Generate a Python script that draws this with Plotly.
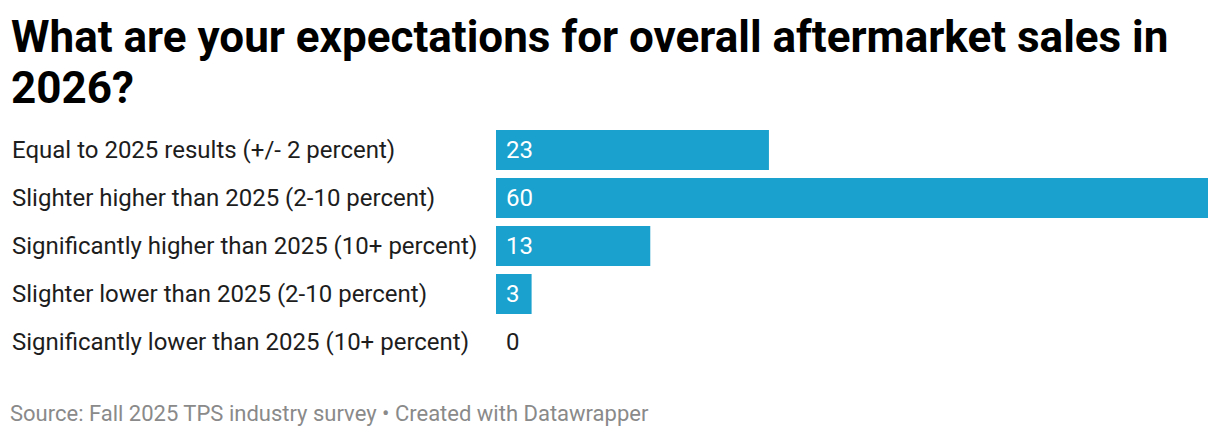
import plotly.graph_objects as go

categories = [
    "Equal to 2025 results (+/- 2 percent)",
    "Slighter higher than 2025 (2-10 percent)",
    "Significantly higher than 2025 (10+ percent)",
    "Slighter lower than 2025 (2-10 percent)",
    "Significantly lower than 2025 (10+ percent)",
]
values = [23, 60, 13, 3, 0]

title_lines = ["What are your expectations for overall aftermarket sales in", "2026?"]
footer_text = "Source: Fall 2025 TPS industry survey • Created with Datawrapper"

BAR = "#1aa1ce"
FONT = "Roboto"
W, H = 1220, 438
L, R, T, B = 496, 12, 126, 72
PW, PH = W - L - R, H - T - B


def px_x(x):
    return (x - L) / PW


def px_y(y):
    return (H - B - y) / PH


fig = go.Figure()
fig.add_trace(go.Bar(
    x=values, y=categories, orientation="h",
    marker=dict(color=BAR, line=dict(width=0)),
    hoverinfo="skip", showlegend=False,
))

annotations = []
for c, v in zip(categories, values):
    annotations.append(dict(
        x=0, y=c, xref="x", yref="y", text=str(v), showarrow=False,
        xanchor="left", yanchor="middle", xshift=8,
        font=dict(family=FONT, size=24, color="#ffffff" if v > 0 else "#1d1d1d"),
    ))
    annotations.append(dict(
        x=px_x(10), y=c, xref="paper", yref="y", text=c, showarrow=False,
        xanchor="left", yanchor="middle",
        font=dict(family=FONT, size=24, color="#1d1d1d"),
    ))

for i, line in enumerate(title_lines):
    annotations.append(dict(
        x=px_x(9), y=px_y(37 + 51 * i), xref="paper", yref="paper",
        text="<b>" + line + "</b>", showarrow=False,
        xanchor="left", yanchor="middle",
        font=dict(family=FONT, size=44, color="#000000"),
    ))

annotations.append(dict(
    x=px_x(8), y=px_y(413), xref="paper", yref="paper",
    text=footer_text, showarrow=False, xanchor="left", yanchor="middle",
    font=dict(family=FONT, size=22, color="#8a8a8a"),
))

fig.update_layout(
    width=W, height=H,
    margin=dict(l=L, r=R, t=T, b=B),
    paper_bgcolor="white", plot_bgcolor="white",
    bargap=8 / 48,
    xaxis=dict(range=[0, 60], visible=False, fixedrange=True),
    yaxis=dict(autorange="reversed", visible=False, fixedrange=True),
    annotations=annotations,
)

fig.write_html(
    "out.html",
    config={"displayModeBar": False},
    post_script="document.body.style.margin='0px';",
)
